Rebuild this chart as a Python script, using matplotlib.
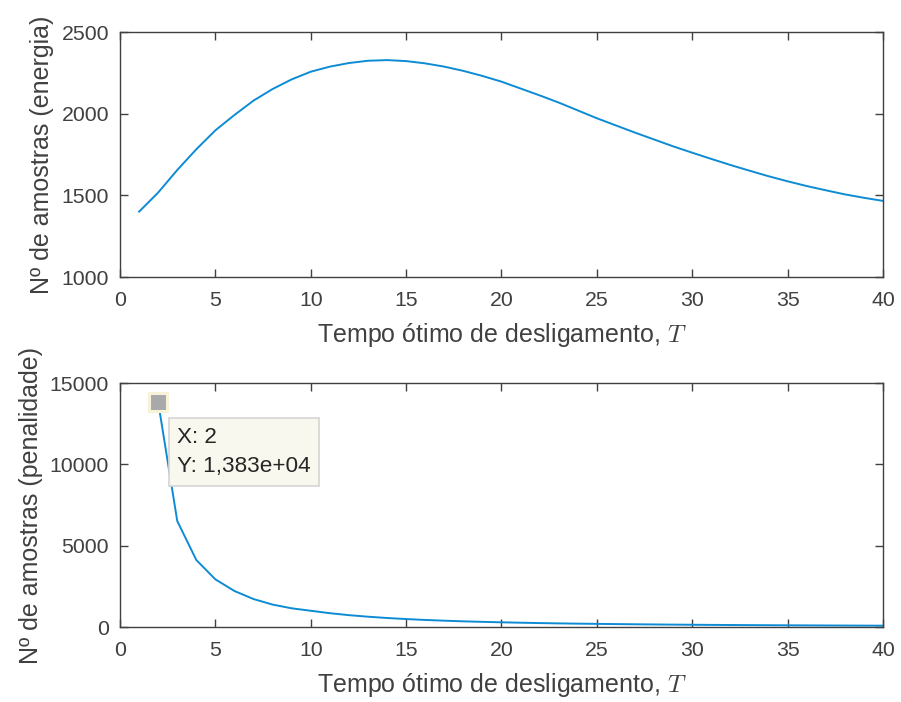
import matplotlib
matplotlib.use("Agg")
import matplotlib.pyplot as plt

plt.rcParams['font.family'] = ['Liberation Sans', 'DejaVu Sans']
plt.rcParams['mathtext.fontset'] = 'cm'

# Energy-based sample count versus switch-off time
t_energy = list(range(1, 41))
n_energy = [1400, 1517, 1655, 1782, 1898, 1992, 2080, 2151, 2210, 2257,
            2288, 2310, 2324, 2328, 2322, 2308, 2288, 2262, 2231, 2196,
            2154, 2112, 2068, 2020, 1972, 1928, 1884, 1842, 1800, 1761,
            1723, 1686, 1651, 1617, 1586, 1557, 1531, 1506, 1485, 1466]

# Penalty-based sample count versus switch-off time
t_penal = list(range(2, 41))
n_penal = [13830, 6520, 4120, 2930, 2214, 1720, 1380, 1150, 1000, 850,
           730, 635, 555, 490, 435, 390, 350, 318, 290, 265,
           243, 224, 208, 194, 181, 169, 158, 148, 139, 131,
           124, 117, 111, 105, 100, 95, 90, 86, 82]

x_ticks = [0, 5, 10, 15, 20, 25, 30, 35, 40]
y_ticks_energy = [1000, 1500, 2000, 2500]
y_ticks_penal = [0, 5000, 10000, 15000]

tip_index = 0  # data tip on the first penalty point

AX_COLOR = '#404040'
LINE_COLOR = '#0d8bd4'
TICK_FS = 15.3
LABEL_FS = 18.0
XLABEL = 'Tempo ótimo de desligamento, $T$'

fig = plt.figure(figsize=(9.01, 7.02), dpi=100)
ax1 = fig.add_axes([0.1332, 0.6054, 0.8468, 0.349])
ax2 = fig.add_axes([0.1332, 0.1068, 0.8468, 0.3476])


def style(ax, yticks):
    ax.set_xlim(0, 40)
    ax.set_xticks(x_ticks)
    ax.set_ylim(yticks[0], yticks[-1])
    ax.set_yticks(yticks)
    for s in ax.spines.values():
        s.set_color(AX_COLOR)
        s.set_linewidth(1.0)
    ax.tick_params(direction='in', length=6, width=1.0, color=AX_COLOR,
                   labelcolor=AX_COLOR, labelsize=TICK_FS, pad=8,
                   top=True, right=True)
    ax.tick_params(axis='x', pad=10)
    ax.set_xlabel(XLABEL, fontsize=LABEL_FS, color=AX_COLOR, labelpad=8)


ax1.plot(t_energy, n_energy, color=LINE_COLOR, linewidth=1.4)
style(ax1, y_ticks_energy)
ax1.set_ylabel('Nº de amostras (energia)', fontsize=LABEL_FS, color=AX_COLOR,
               labelpad=5)

ax2.plot(t_penal, n_penal, color=LINE_COLOR, linewidth=1.4)
style(ax2, y_ticks_penal)
ax2.set_ylabel('Nº de amostras (penalidade)', fontsize=LABEL_FS,
               color=AX_COLOR, labelpad=5)

# Data tip marker and label
tx, ty = t_penal[tip_index], n_penal[tip_index]
ax2.plot([tx], [ty], marker='s', markersize=13, markerfacecolor='#a9a9ab',
         markeredgecolor='#f7f3d8', markeredgewidth=2.2, zorder=5,
         clip_on=False)
tip_text = 'X: {}\nY: {}'.format(tx, '{:.3e}'.format(ty).replace('.', ','))
ax2.annotate(tip_text, xy=(tx, ty), xytext=(19, -25),
             textcoords='offset pixels', ha='left', va='top',
             fontsize=16.2, color='#262626', linespacing=1.5,
             bbox=dict(boxstyle='square,pad=0.38', facecolor='#f8f8ee',
                       edgecolor='#d4d4d4', linewidth=1.2),
             zorder=6)

fig.savefig('out.png', dpi=100)
